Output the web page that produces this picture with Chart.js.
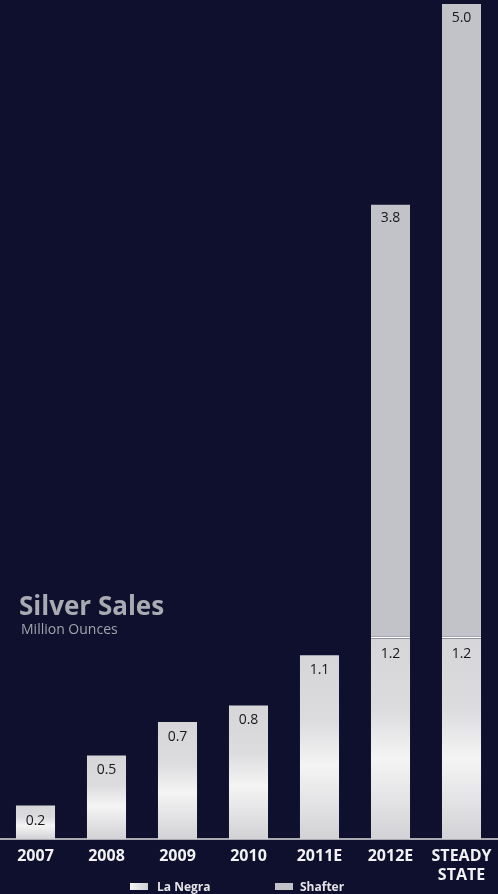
<!DOCTYPE html>
<html>
<head>
<meta charset="utf-8">
<script src="https://cdn.jsdelivr.net/npm/chart.js@4.4.0/dist/chart.umd.min.js"></script>
<style>
  html, body { margin: 0; padding: 0; background: #0e102e; }
  #wrap { position: relative; width: 498px; height: 894px; overflow: hidden; }
  #cv { position: absolute; left: 0; top: 0; }
  .title { position: absolute; left: 19px; top: 587px; font: bold 26px "Open Sans", sans-serif; color: #a9aab2; }
  .sub { position: absolute; left: 21px; top: 619px; font: 14px "Open Sans", sans-serif; color: #a3a4ac; }
  .leg { position: absolute; top: 878px; font: bold 12px "Open Sans", sans-serif; color: #e4e4e8; }
  .sw { position: absolute; top: 883px; width: 18px; height: 7px; }
</style>
</head>
<body>
<div id="wrap">
  <canvas id="cv" width="498" height="894"></canvas>
  <div class="title">Silver Sales</div>
  <div class="sub">Million Ounces</div>
  <div class="sw" style="left:130px;background:linear-gradient(90deg,#f4f4f4,#cfcfd3);"></div>
  <div class="leg" style="left:157px;">La Negra</div>
  <div class="sw" style="left:275px;background:#c2c2c9;"></div>
  <div class="leg" style="left:300px;">Shafter</div>
</div>
<script>
var years = ['2007', '2008', '2009', '2010', '2011E', '2012E', ['STEADY', 'STATE']];
var laNegra = [0.2, 0.5, 0.7, 0.8, 1.1, 1.2, 1.2];
var shafter = [null, null, null, null, null, 2.6, 3.8];
var totals = [null, null, null, null, null, 3.8, 5.0];

// silver look for the La Negra bars, one gradient per bar
function silver(ctx) {
    var chart = ctx.chart;
    if (!chart.chartArea || !chart.scales.y) return '#e6e6e8';
    var y = chart.scales.y;
    var top = y.getPixelForValue(ctx.raw || 0);
    var bottom = y.getPixelForValue(0);
    if (!(bottom > top)) return '#e6e6e8';
    var g = chart.ctx.createLinearGradient(0, top, 0, bottom);
    g.addColorStop(0, '#d6d6d9');
    g.addColorStop(0.35, '#dcdcdf');
    g.addColorStop(0.6, '#f4f4f4');
    g.addColorStop(0.8, '#e4e4e6');
    g.addColorStop(1, '#d2d2d6');
    return g;
}

var labelsPlugin = {
    id: 'barLabels',
    afterDatasetsDraw: function (chart) {
        var c = chart.ctx;
        c.save();
        c.font = '14px "Open Sans", sans-serif';
        c.fillStyle = '#18181c';
        c.textAlign = 'center';
        c.textBaseline = 'middle';
        chart.getDatasetMeta(0).data.forEach(function (bar, i) {
            c.fillText(laNegra[i].toFixed(1), bar.x, bar.y + 15);
        });
        chart.getDatasetMeta(1).data.forEach(function (bar, i) {
            if (totals[i] == null) return;
            c.fillText(totals[i].toFixed(1), bar.x, bar.y + 14);
        });
        c.restore();
    }
};

new Chart(document.getElementById('cv').getContext('2d'), {
    type: 'bar',
    data: {
        labels: years,
        datasets: [{
            label: 'La Negra',
            data: laNegra,
            backgroundColor: silver,
            borderWidth: 0
        }, {
            label: 'Shafter',
            data: shafter,
            backgroundColor: '#c2c2c9',
            borderColor: '#ffffff',
            borderWidth: { top: 0, left: 0, right: 0, bottom: 2 },
            borderSkipped: false
        }]
    },
    options: {
        responsive: false,
        animation: false,
        datasets: { bar: { barPercentage: 0.55, categoryPercentage: 1 } },
        layout: { padding: { top: 4, left: 0, right: 1, bottom: 0 } },
        plugins: { legend: { display: false }, tooltip: { enabled: false } },
        scales: {
            x: {
                stacked: true,
                grid: { display: false },
                border: { display: true, color: '#a9a9b2', width: 2 },
                ticks: {
                    color: '#f2f2f4',
                    font: { family: 'Open Sans', weight: 'bold', size: 16 },
                    padding: 0,
                    maxRotation: 0,
                    autoSkip: false
                },
                afterFit: function (scale) { scale.height = 55; }
            },
            y: {
                stacked: true,
                display: false,
                min: 0,
                max: 5.0
            }
        }
    },
    plugins: [labelsPlugin]
});
</script>
</body>
</html>
